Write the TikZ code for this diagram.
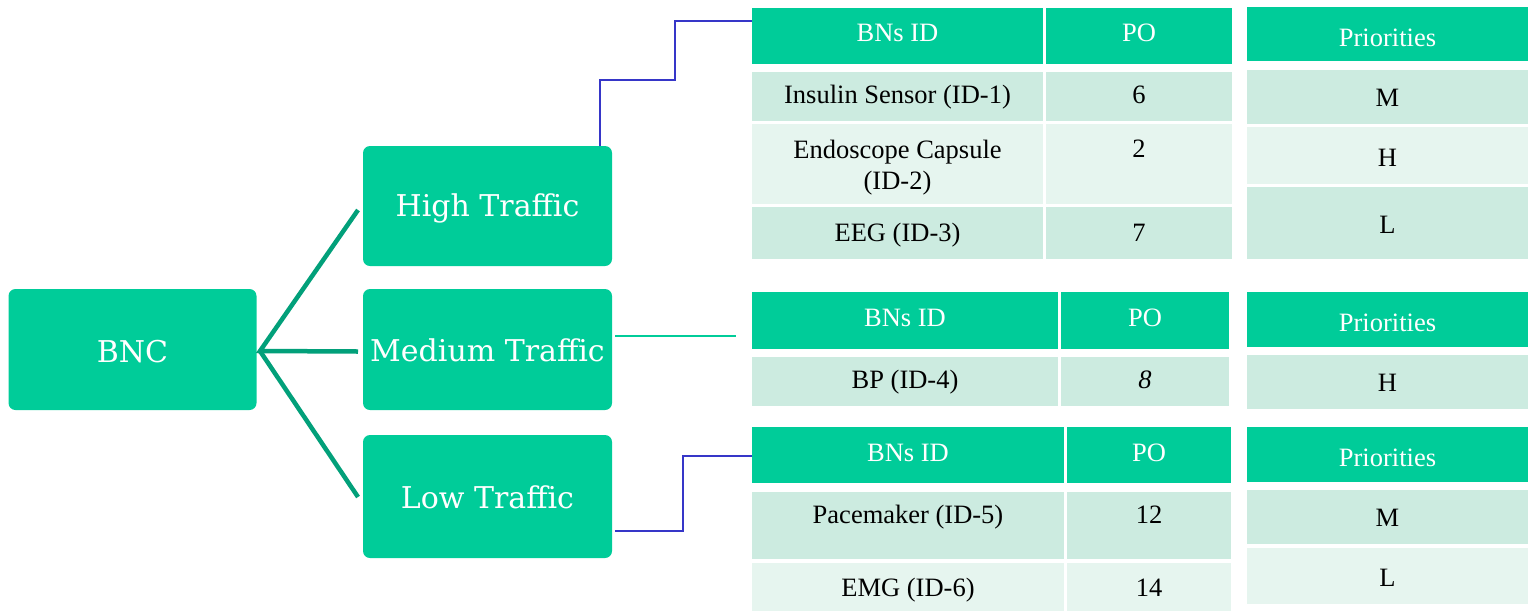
\documentclass[tikz,border=0pt]{standalone}
\usepackage{fontspec}
\usetikzlibrary{calc}
\newfontfamily\tnr{Liberation Serif}
\newfontfamily\boxfont{DejaVu Serif}
\definecolor{mint}{HTML}{00CC99}
\definecolor{rowA}{HTML}{CCEBE0}
\definecolor{rowB}{HTML}{E6F5EF}
\definecolor{fanc}{HTML}{02A07A}
\definecolor{linkc}{HTML}{3636C8}

% a filled table cell spanning (x1,y1)-(x2,y2), y growing downwards
\newcommand\cell[6]{%
  \node[cellbox, fill=#6, minimum width={(#4-#2)*1pt}, minimum height={(#5-#3)*1pt}]
    (#1) at ({(#2+#4)/2},{(#3+#5)/2}) {};}
% text set on a baseline inside a cell
\newcommand\ctext[4]{\node[#1] (#2-t) at (#2.center |- 0,#3) {#4};}

\tikzset{
  cellbox/.style={draw=none, inner sep=0pt, outer sep=0pt},
  body/.style={font=\tnr\fontsize{26.5}{30}\selectfont, anchor=base, inner sep=0pt},
  head/.style={body, text=white},
  tbox/.style={fill=mint, rounded corners=7pt, inner sep=0pt, outer sep=0pt,
    minimum width=249pt},
  tlabel/.style={font=\boxfont\fontsize{30}{34}\selectfont, text=white, anchor=base, inner sep=0pt},
  fanline/.style={draw=fanc, line width=4.5pt},
  linkline/.style={draw=linkc, line width=2pt},
  medline/.style={draw=mint, line width=1.8pt},
}

\begin{document}
\begin{tikzpicture}[x=1pt,y=-1pt]
\useasboundingbox (0,0) rectangle (1528,611);

% ---------- traffic classes ----------
\node[tbox, minimum width=248pt, minimum height=121pt] (bnc)  at (132.5,349.5) {};
\node[tbox, minimum height=120pt] (high) at (487.5,206) {};
\node[tbox, minimum height=121pt] (med)  at (487.5,349.5) {};
\node[tbox, minimum height=123pt] (low)  at (487.5,496.5) {};
\node[tlabel] (bnc-t)  at (bnc.center  |- 0,362) {BNC};
\node[tlabel] (high-t) at (high.center |- 0,216) {High Traffic};
\node[tlabel] (med-t)  at (med.center  |- 0,361) {Medium Traffic};
\node[tlabel] (low-t)  at (low.center  |- 0,508) {Low Traffic};

\coordinate (hub) at (260,351);
\draw[fanline] ([xshift=-5pt,yshift=-4pt]high.west) -- (hub)
  -- ([xshift=-5pt,yshift=-2pt]med.west);
\draw[fanline] (hub) -- ([xshift=-5pt,yshift=-0.5pt]low.west);

% ---------- high traffic table ----------
\cell{h11}{752}{8}{1043}{64}{mint}
\cell{h12}{1046}{8}{1232}{64}{mint}
\cell{r11}{752}{72}{1043}{121}{rowA}
\cell{r12}{1046}{72}{1232}{121}{rowA}
\cell{r21}{752}{124}{1043}{204}{rowB}
\cell{r22}{1046}{124}{1232}{204}{rowB}
\cell{r31}{752}{207}{1043}{259}{rowA}
\cell{r32}{1046}{207}{1232}{259}{rowA}
\ctext{head}{h11}{41}{BNs ID}
\ctext{head}{h12}{41}{PO}
\ctext{body}{r11}{103}{Insulin Sensor (ID-1)}
\ctext{body}{r12}{103}{6}
\ctext{body}{r21}{158}{Endoscope Capsule}
\node[body] (r21-u) at (r21.center |- 0,189) {(ID-2)};
\ctext{body}{r22}{157}{2}
\ctext{body}{r31}{241}{EEG (ID-3)}
\ctext{body}{r32}{241}{7}

\cell{p1h}{1247}{7}{1528}{61}{mint}
\cell{p11}{1247}{70}{1528}{124}{rowA}
\cell{p12}{1247}{127}{1528}{184}{rowB}
\cell{p13}{1247}{187}{1528}{259}{rowA}
\ctext{head}{p1h}{46}{Priorities}
\ctext{body}{p11}{106}{M}
\ctext{body}{p12}{166}{H}
\ctext{body}{p13}{233}{L}

% ---------- medium traffic table ----------
\cell{m11}{752}{292}{1058}{349}{mint}
\cell{m12}{1061}{292}{1229}{349}{mint}
\cell{m21}{752}{357}{1058}{406}{rowA}
\cell{m22}{1061}{357}{1229}{406}{rowA}
\ctext{head}{m11}{326}{BNs ID}
\ctext{head}{m12}{326}{PO}
\ctext{body}{m21}{388}{BP (ID-4)}
\ctext{body}{m22}{388}{\itshape 8}

\cell{p2h}{1247}{292}{1528}{347}{mint}
\cell{p21}{1247}{355}{1528}{409}{rowA}
\ctext{head}{p2h}{331}{Priorities}
\ctext{body}{p21}{391}{H}

% ---------- low traffic table ----------
\cell{l11}{752}{427}{1064}{483}{mint}
\cell{l12}{1067}{427}{1231}{483}{mint}
\cell{l21}{752}{492}{1064}{559}{rowA}
\cell{l22}{1067}{492}{1231}{559}{rowA}
\cell{l31}{752}{563}{1064}{611}{rowB}
\cell{l32}{1067}{563}{1231}{611}{rowB}
\ctext{head}{l11}{461}{BNs ID}
\ctext{head}{l12}{461}{PO}
\ctext{body}{l21}{523}{Pacemaker (ID-5)}
\ctext{body}{l22}{523}{12}
\ctext{body}{l31}{596}{EMG (ID-6)}
\ctext{body}{l32}{596}{14}

\cell{p3h}{1247}{427}{1528}{482}{mint}
\cell{p31}{1247}{490}{1528}{544}{rowA}
\cell{p32}{1247}{548}{1528}{604}{rowB}
\ctext{head}{p3h}{466}{Priorities}
\ctext{body}{p31}{526}{M}
\ctext{body}{p32}{586}{L}

% ---------- links from classes to tables ----------
\draw[linkline] ([xshift=-12pt]high.north east) |- (675,80) |- ($(h11.north west)+(0,13)$);
\coordinate (medend) at (736,336);
\draw[medline] ([xshift=3pt]med.east |- medend) -- (medend);
\draw[linkline] ([xshift=3pt]low.east |- 0,531) -| (683,456) -- (l11.west |- 0,456);
\end{tikzpicture}
\end{document}
